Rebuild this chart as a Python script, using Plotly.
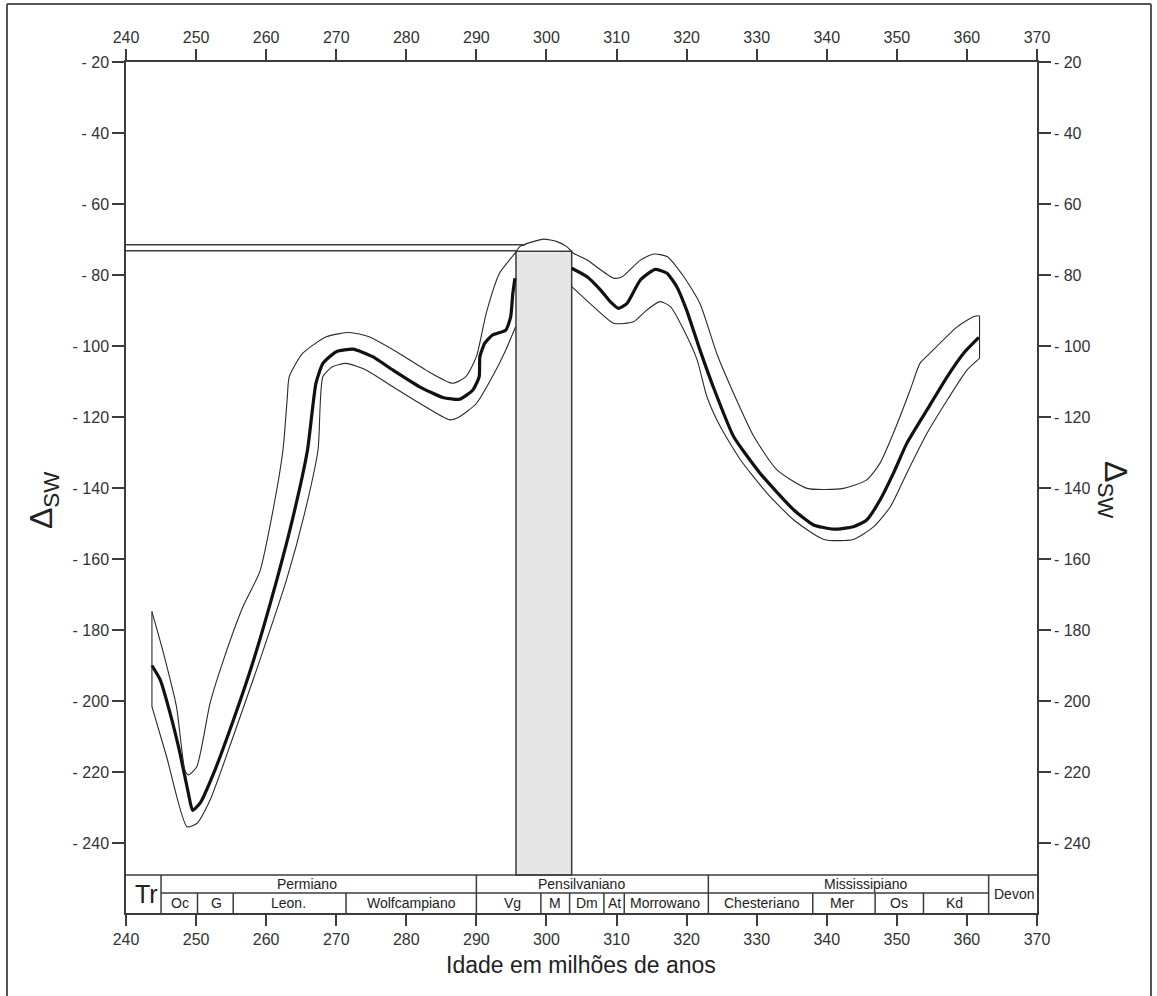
import plotly.graph_objects as go

# ---- data: Δsw through time (ages in Ma) ----
age_central_a = [243.7, 244.9, 246.3, 247.7, 248.9, 249.5, 250.6, 252.5, 255.3, 258.2, 261.5, 263.8,
                 265.9, 267.1, 268.1, 270.0, 272.4, 275.2, 278.1, 281.9, 285.2, 287.6, 289.5, 290.4,
                 290.5, 291.2, 292.3, 294.2, 294.9, 295.2, 295.5]
dsw_central_a = [-190.0, -194.1, -203.5, -214.7, -226.0, -230.8, -228.7, -220.4, -205.5, -188.5, -166.0, -148.5,
                 -129.3, -110.5, -104.9, -101.6, -100.9, -103.0, -106.8, -111.5, -114.5, -115.0, -112.4, -108.6,
                 -103.0, -99.2, -96.9, -95.5, -91.7, -85.2, -80.9]
age_central_b = [303.6, 305.8, 307.7, 309.1, 310.3, 311.5, 313.4, 315.5, 317.2, 318.6, 320.0, 321.9, 323.8,
                 326.7, 330.5, 335.3, 338.1, 341.0, 343.8, 345.7, 347.6, 349.5, 351.4, 354.3, 357.2, 359.5, 361.7]
dsw_central_b = [-78.1, -80.5, -84.2, -87.5, -89.4, -88.0, -81.4, -78.4, -79.5, -83.3, -89.9, -101.1, -111.5,
                 -125.5, -135.9, -146.2, -150.4, -151.6, -150.9, -149.0, -143.4, -135.9, -127.5, -118.0, -108.6,
                 -102.1, -97.6]

age_upper = [243.7, 245.1, 247.2, 248.4, 248.9, 250.1, 252.0, 253.9, 256.7, 259.1, 261.1, 262.4, 263.0,
             263.3, 265.2, 268.6, 271.9, 274.7, 279.0, 282.8, 286.6, 288.5, 290.0, 291.4, 293.3, 295.5, 296.2,
             298.1, 299.6, 301.5, 302.9, 303.8, 305.8, 309.6, 310.8, 313.4, 315.3, 317.2, 319.6, 321.9, 324.3,
             326.7, 329.6, 332.9, 337.2, 342.4, 345.7, 347.6, 349.5, 351.9, 353.3, 354.7, 358.6, 361.0, 361.8]
dsw_upper = [-174.8, -184.7, -201.6, -219.4, -220.8, -218.5, -200.6, -188.5, -173.4, -163.5, -145.0, -129.3, -115.0,
             -108.6, -102.1, -97.4, -96.2, -97.4, -102.1, -106.8, -110.5, -108.6, -103.0, -90.8, -79.5, -73.9, -72.0,
             -70.6, -69.9, -70.6, -72.0, -73.8, -75.8, -80.9, -80.5, -75.8, -74.1, -74.8, -80.5, -88.0, -102.1,
             -113.3, -125.5, -134.9, -140.1, -140.1, -137.7, -133.0, -124.6, -112.4, -104.9, -102.1, -94.6, -91.7, -91.5]

age_lower_a = [243.7, 245.8, 248.7, 250.1, 252.0, 255.3, 259.1, 262.9, 265.5, 267.4, 268.1, 269.5, 271.4, 274.3,
               278.1, 281.9, 286.2, 287.6, 290.0, 292.3, 294.2, 295.6]
dsw_lower_a = [-201.6, -215.7, -235.4, -234.5, -227.9, -210.0, -188.5, -165.9, -147.0, -129.3, -108.6, -105.8, -104.9, -106.8,
               -111.5, -116.1, -120.8, -119.9, -116.2, -108.6, -101.1, -94.6]
age_lower_b = [303.6, 306.2, 309.6, 312.4, 314.3, 316.2, 317.7, 319.6, 321.5, 322.9, 324.8, 327.7, 331.5, 335.3,
               339.6, 343.8, 346.7, 349.1, 351.4, 354.3, 357.2, 360.0, 361.8]
dsw_lower_b = [-83.3, -88.0, -93.6, -93.2, -89.9, -87.5, -88.9, -95.5, -103.9, -114.3, -122.7, -132.1, -141.5, -149.0,
               -154.5, -154.5, -150.9, -145.2, -135.9, -124.6, -115.2, -106.8, -103.5]

# highlighted interval and reference levels
band_age = [295.65, 303.6]
band_top = -73.3
ref_levels = [-71.5, -73.2]
ref_ends = [297.0, 295.65]

# axis ticks
age_ticks = list(range(240, 371, 10))
dsw_ticks = list(range(-20, -241, -20))
dsw_ticktext = ["- %d" % abs(v) for v in dsw_ticks]

# chronostratigraphic table
period_bounds = [245.0, 290.0, 323.1, 363.1]
periods = [("Permiano", 265.8), ("Pensilvaniano", 305.0), ("Mississipiano", 345.5)]
stage_bounds = [250.2, 255.3, 271.4, 299.2, 303.3, 308.2, 311.1, 338.0, 346.9, 353.8]
stages = [("Oc", 247.7), ("G", 252.9), ("Leon.", 263.2), ("Wolfcampiano", 280.8), ("Vg", 295.1),
          ("M", 301.2), ("Dm", 305.8), ("At", 309.7), ("Morrowano", 316.9), ("Chesteriano", 330.75),
          ("Mer", 342.2), ("Os", 350.25), ("Kd", 358.2)]

X_RANGE = [240, 370]
Y_TOP = -20.0
Y_TABLE_TOP = -249.0
Y_TABLE_MID = -254.08
Y_BOTTOM = -259.72

FONT = "Liberation Sans, Arial, sans-serif"
AX = "#3c3c3c"

fig = go.Figure()

# envelope: upper and lower bounds, closed by short caps at both ends
thin = dict(color="#2a2a2a", width=1.1, shape="spline", smoothing=0.6)
cap = dict(color="#2a2a2a", width=1.1)
env = dict(mode="lines", xaxis="x2", yaxis="y2", hoverinfo="skip", showlegend=False)
fig.add_trace(go.Scatter(x=age_upper, y=dsw_upper, line=thin, **env))
fig.add_trace(go.Scatter(x=age_lower_a, y=dsw_lower_a, line=thin, **env))
fig.add_trace(go.Scatter(x=age_lower_b, y=dsw_lower_b, line=thin, **env))
fig.add_trace(go.Scatter(x=[age_upper[0], age_lower_a[0]], y=[dsw_upper[0], dsw_lower_a[0]], line=cap, **env))
fig.add_trace(go.Scatter(x=[age_upper[-1], age_lower_b[-1]], y=[dsw_upper[-1], dsw_lower_b[-1]], line=cap, **env))

# central estimate
thick = dict(color="#111111", width=3.2, shape="spline", smoothing=0.5)
fig.add_trace(go.Scatter(x=age_central_a, y=dsw_central_a, mode="lines", line=thick,
                         hoverinfo="skip", showlegend=False))
fig.add_trace(go.Scatter(x=age_central_b, y=dsw_central_b, mode="lines", line=thick,
                         hoverinfo="skip", showlegend=False))

shapes = []
# highlighted interval
shapes.append(dict(type="rect", xref="x", yref="y", x0=band_age[0], x1=band_age[1],
                   y0=Y_TABLE_TOP, y1=band_top, fillcolor="#e6e6e6",
                   line=dict(color=AX, width=1.5), layer="below"))
# reference levels
for lvl, end in zip(ref_levels, ref_ends):
    shapes.append(dict(type="line", xref="x", yref="y", x0=X_RANGE[0], x1=end, y0=lvl, y1=lvl,
                       line=dict(color=AX, width=1.5)))
# table outline
shapes.append(dict(type="line", xref="x", yref="y", x0=X_RANGE[0], x1=X_RANGE[1],
                   y0=Y_TABLE_TOP, y1=Y_TABLE_TOP, line=dict(color=AX, width=1.5)))
shapes.append(dict(type="line", xref="x", yref="y", x0=period_bounds[0], x1=period_bounds[-1],
                   y0=Y_TABLE_MID, y1=Y_TABLE_MID, line=dict(color=AX, width=1.5)))
for b in period_bounds:
    shapes.append(dict(type="line", xref="x", yref="y", x0=b, x1=b, y0=Y_TABLE_TOP, y1=Y_BOTTOM,
                       line=dict(color=AX, width=1.5)))
for b in stage_bounds:
    shapes.append(dict(type="line", xref="x", yref="y", x0=b, x1=b, y0=Y_TABLE_MID, y1=Y_BOTTOM,
                       line=dict(color=AX, width=1.5)))

# page frame (paper coords: plot area spans x 126..1037 px, y 62..913 px)
def px_x(px):
    return (px - 126) / 911.0

def px_y(py):
    return (913 - py) / 851.0

frame = dict(color="#555555", width=2)
shapes.append(dict(type="line", xref="paper", yref="paper", x0=px_x(7), x1=px_x(7),
                   y0=px_y(4), y1=px_y(1000), line=frame))
shapes.append(dict(type="line", xref="paper", yref="paper", x0=px_x(7), x1=px_x(1151),
                   y0=px_y(4), y1=px_y(4), line=frame))
shapes.append(dict(type="line", xref="paper", yref="paper", x0=px_x(1151), x1=px_x(1151),
                   y0=px_y(4), y1=px_y(1000), line=frame))

annotations = []
row1 = (Y_TABLE_TOP + Y_TABLE_MID) / 2
row2 = (Y_TABLE_MID + Y_BOTTOM) / 2
both = (Y_TABLE_TOP + Y_BOTTOM) / 2
center = dict(xanchor="center", yanchor="middle", showarrow=False)
for name, xc in periods:
    annotations.append(dict(x=xc, y=row1, xref="x", yref="y", text=name, **center,
                            font=dict(family=FONT, size=14, color="#222")))
for name, xc in stages:
    annotations.append(dict(x=xc, y=row2, xref="x", yref="y", text=name, **center,
                            font=dict(family=FONT, size=14, color="#222")))
annotations.append(dict(x=242.95, y=both, xref="x", yref="y", text="Tr", **center,
                        font=dict(family=FONT, size=25, color="#222")))
annotations.append(dict(x=366.7, y=both, xref="x", yref="y", text="Devon", **center,
                        font=dict(family=FONT, size=14, color="#222")))

# axis titles
annotations.append(dict(x=px_x(581), y=px_y(965), xref="paper", yref="paper",
                        text="Idade em milhões de anos", **center,
                        font=dict(family=FONT, size=23, color="#222")))
annotations.append(dict(x=px_x(44), y=px_y(500), xref="paper", yref="paper",
                        text="Δ<sub>SW</sub>", textangle=-90, **center,
                        font=dict(family=FONT, size=32, color="#222")))
annotations.append(dict(x=px_x(1113), y=px_y(490), xref="paper", yref="paper",
                        text="Δ<sub>SW</sub>", textangle=90, **center,
                        font=dict(family=FONT, size=32, color="#222")))

xcommon = dict(range=X_RANGE, tickmode="array", tickvals=age_ticks, ticks="outside", ticklen=11,
               tickwidth=1.5, tickcolor=AX, showline=True, linecolor=AX, linewidth=1.5,
               showgrid=False, zeroline=False, tickfont=dict(family=FONT, size=16, color="#333"))
ycommon = dict(range=[Y_BOTTOM, Y_TOP], tickmode="array", tickvals=dsw_ticks, ticktext=dsw_ticktext,
               ticks="outside", ticklen=12, tickwidth=1.5, tickcolor=AX, showline=True, linecolor=AX,
               linewidth=1.5, showgrid=False, zeroline=False,
               tickfont=dict(family=FONT, size=16, color="#333"))

fig.update_layout(
    width=1157, height=996,
    margin=dict(l=126, r=120, t=62, b=83),
    paper_bgcolor="white", plot_bgcolor="white",
    xaxis=dict(**xcommon, side="bottom", anchor="y"),
    xaxis2=dict(**xcommon, side="top", overlaying="x", anchor="y2"),
    yaxis=dict(**ycommon, side="left", anchor="x"),
    yaxis2=dict(**ycommon, side="right", overlaying="y", anchor="x2"),
    shapes=shapes, annotations=annotations, showlegend=False,
)

fig.write_html("out.html")
